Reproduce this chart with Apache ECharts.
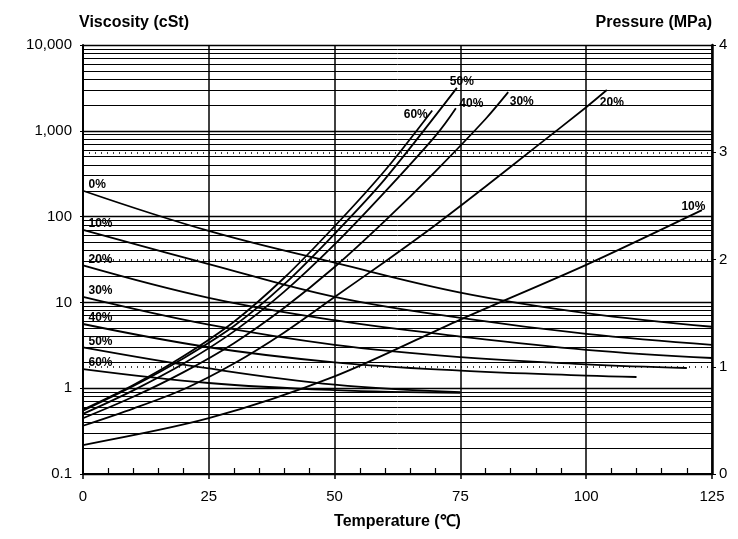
<!DOCTYPE html>
<html lang="en">
	<head>
		<meta charset="UTF-8">
		<title>Viscosity and pressure vs temperature</title>
		<script src="https://cdn.jsdelivr.net/npm/echarts@6/dist/echarts.min.js"></script>
		<style>
			html, body {
				margin: 0;
				padding: 0;
				background: #fff;
			}
			#main {
				width: 738px;
				height: 539px;
			}
		</style>
	</head>

	<body>
		<div id="main"></div>
	</body>

	<script>
		// x axis
		let xTicks = [0, 25, 50, 75, 100, 125];

		// left axis (log) and right axis ticks
		let yTicks = [0.1, 1, 10, 100, 1000, 10000];
		let yTickLabels = ['0.1', '1', '10', '100', '1,000', '10,000'];
		let pTicks = [0, 1, 2, 3, 4];
		let decades = [0.1, 1, 10, 100, 1000];
		let minorSteps = [2, 3, 4, 5, 6, 7, 8, 9];

		// viscosity curves (cSt), left axis
		let viscNames = ['0%', '10%', '20%', '30%', '40%', '50%', '60%'];
		let viscTemps = [
			[0, 25, 50, 75, 100, 125],
			[0, 25, 50, 75, 100, 125],
			[0, 25, 50, 75, 100, 125],
			[0, 25, 50, 75, 100, 120],
			[0, 25, 50, 75, 100, 110],
			[0, 25, 50, 75],
			[0, 25, 50, 75]
		];
		let viscValues = [
			[200, 68, 29, 13, 7.5, 5.2],
			[70, 28, 11.6, 6.6, 4.3, 3.2],
			[27, 11.3, 6.2, 4.0, 2.8, 2.25],
			[11.6, 5.5, 3.2, 2.3, 1.9, 1.72],
			[5.6, 3.0, 2.0, 1.6, 1.4, 1.35],
			[3.0, 1.7, 1.1, 0.9],
			[1.67, 1.15, 0.95, 0.88]
		];

		// pressure curves (MPa), right axis
		let presNames = ['60%', '50%', '40%', '30%', '20%', '10%'];
		let presTemps = [
			[0, 10, 20, 30, 40, 50, 60, 69.4],
			[0, 10, 20, 30, 40, 50, 60, 74.3],
			[0, 10, 20, 30, 40, 50, 60, 70, 74.1],
			[0, 10, 20, 30, 40, 50, 60, 70, 80, 84.5],
			[0, 10, 20, 30, 40, 50, 60, 70, 80, 90, 100, 104.1],
			[0, 25, 50, 75, 100, 123]
		];
		let presValues = [
			[0.60, 0.83, 1.10, 1.42, 1.83, 2.31, 2.83, 3.39],
			[0.59, 0.82, 1.08, 1.38, 1.77, 2.24, 2.75, 3.60],
			[0.56, 0.78, 1.03, 1.33, 1.70, 2.14, 2.63, 3.15, 3.41],
			[0.52, 0.72, 0.95, 1.22, 1.55, 1.93, 2.36, 2.82, 3.31, 3.56],
			[0.45, 0.61, 0.79, 1.03, 1.32, 1.65, 1.98, 2.32, 2.68, 3.05, 3.42, 3.58],
			[0.27, 0.52, 0.91, 1.44, 1.95, 2.46]
		];

		// where each curve label sits relative to its anchor point
		let presLabelPos = [
			{ position: 'left', offset: [-1, 4] },
			{ position: 'top', offset: [5, 3] },
			{ position: 'right', offset: [0, -5] },
			{ position: 'right', offset: [-2, 9] },
			{ position: 'bottom', offset: [5, 3] },
			{ position: 'left', offset: [7, -3] }
		];

		let family = 'Liberation Sans, Arial, Helvetica, sans-serif';

		let labelFont = {
			fontFamily: family,
			fontSize: 12,
			fontWeight: 'bold',
			color: '#000'
		};

		function pairs(xs, ys) {
			return xs.map((x, i) => [x, ys[i]]);
		}

		function labelPoint(coord, text, pos) {
			return {
				coord: coord,
				symbol: 'rect',
				symbolSize: 1,
				itemStyle: { color: 'rgba(0,0,0,0)' },
				label: Object.assign({
					show: true,
					formatter: text,
					position: pos.position,
					offset: pos.offset,
					distance: 3
				}, labelFont)
			};
		}

		let minorLines = [];
		decades.forEach(d => {
			minorSteps.forEach(k => {
				minorLines.push({ yAxis: d * k });
			});
		});

		let series = [];

		viscNames.forEach((name, i) => {
			let s = {
				name: name,
				type: 'line',
				yAxisIndex: 0,
				data: pairs(viscTemps[i], viscValues[i]),
				smooth: 0.4,
				showSymbol: false,
				lineStyle: { color: '#000', width: 1.8 },
				markPoint: {
					silent: true,
					data: [labelPoint([viscTemps[i][0], viscValues[i][0]], name, { position: 'right', offset: [2, -6] })]
				}
			};
			if (i === 0) {
				s.markLine = {
					silent: true,
					symbol: 'none',
					label: { show: false },
					lineStyle: { color: '#000', width: 1, type: 'solid' },
					data: minorLines
				};
			}
			series.push(s);
		});

		presNames.forEach((name, i) => {
			let n = presTemps[i].length;
			let s = {
				name: 'P ' + name,
				type: 'line',
				yAxisIndex: 1,
				data: pairs(presTemps[i], presValues[i]),
				smooth: 0.3,
				showSymbol: false,
				lineStyle: { color: '#000', width: 1.8 },
				markPoint: {
					silent: true,
					data: [labelPoint([presTemps[i][n - 1], presValues[i][n - 1]], name, presLabelPos[i])]
				}
			};
			if (i === presNames.length - 1) {
				s.markLine = {
					silent: true,
					symbol: 'none',
					label: { show: false },
					lineStyle: { color: '#000', width: 1.6, type: [1, 5] },
					data: pTicks.slice(1, 4).map(p => ({ yAxis: p }))
				};
			}
			series.push(s);
		});

		let tickFont = {
			fontFamily: family,
			fontSize: 15,
			color: '#000'
		};
		let nameFont = {
			fontFamily: family,
			fontSize: 16,
			fontWeight: 'bold',
			color: '#000'
		};

		let option = {
			animation: false,
			backgroundColor: '#fff',
			grid: {
				left: 83,
				right: 26,
				top: 45,
				bottom: 65
			},
			xAxis: {
				type: 'value',
				min: xTicks[0],
				max: xTicks[xTicks.length - 1],
				interval: 25,
				name: 'Temperature (℃)',
				nameLocation: 'middle',
				nameGap: 40,
				nameTextStyle: nameFont,
				axisLine: { lineStyle: { color: '#000', width: 2 } },
				axisTick: { show: true, length: 5, lineStyle: { color: '#000', width: 1.5 } },
				minorTick: { show: true, splitNumber: 5, length: -6, lineStyle: { color: '#000', width: 1.2 } },
				axisLabel: Object.assign({ margin: 15 }, tickFont),
				splitLine: { show: true, lineStyle: { color: '#000', width: 1.5 } }
			},
			yAxis: [{
				type: 'log',
				logBase: 10,
				min: yTicks[0],
				max: yTicks[yTicks.length - 1],
				position: 'left',
				name: 'Viscosity (cSt)',
				nameLocation: 'end',
				nameGap: 14,
				nameTextStyle: Object.assign({ align: 'left', padding: [0, 0, 0, -4] }, nameFont),
				axisLine: { show: true, lineStyle: { color: '#000', width: 2 } },
				axisTick: { show: true, length: 3, lineStyle: { color: '#000' } },
				axisLabel: Object.assign({
					margin: 11,
					formatter: v => {
						let idx = yTicks.findIndex(t => Math.abs(Math.log10(t) - Math.log10(v)) < 1e-6);
						return idx >= 0 ? yTickLabels[idx] : '';
					}
				}, tickFont),
				splitLine: { show: true, lineStyle: { color: '#000', width: 1.3 } }
			}, {
				type: 'value',
				min: pTicks[0],
				max: pTicks[pTicks.length - 1],
				interval: 1,
				position: 'right',
				name: 'Pressure (MPa)',
				nameLocation: 'end',
				nameGap: 14,
				nameTextStyle: Object.assign({ align: 'right', padding: [0, 0, 0, 0] }, nameFont),
				axisLine: { show: true, lineStyle: { color: '#000', width: 2.5 } },
				axisTick: { show: true, length: 4, lineStyle: { color: '#000' } },
				axisLabel: Object.assign({ margin: 7 }, tickFont),
				splitLine: { show: false }
			}],
			series: series
		};

		let chart = echarts.init(document.getElementById('main'));
		chart.setOption(option);
	</script>
</html>
